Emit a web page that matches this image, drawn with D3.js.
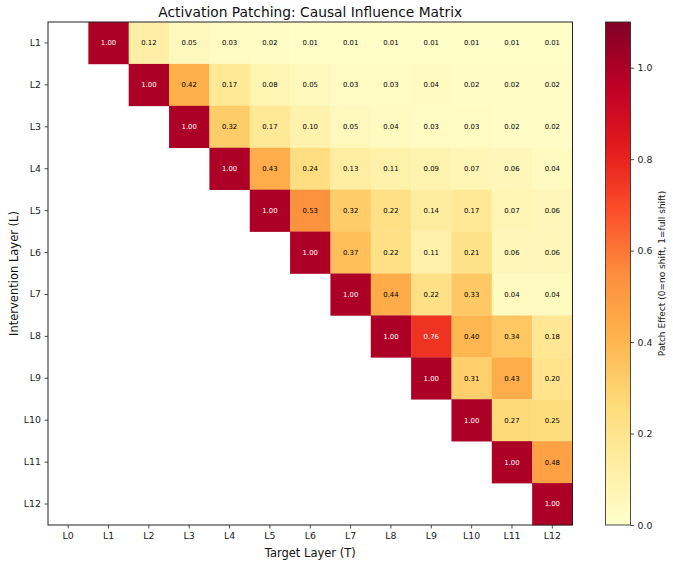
<!DOCTYPE html>
<html><head><meta charset="utf-8">
<script src="https://cdn.jsdelivr.net/npm/d3@7"></script>
<style>body{margin:0;background:#fff}svg{display:block;font-family:"DejaVu Sans",sans-serif}</style>
</head><body><svg id="c" width="673" height="565"></svg>
<script>
const rowLabels = ["L1","L2","L3","L4","L5","L6","L7","L8","L9","L10","L11","L12"];
const colLabels = ["L0","L1","L2","L3","L4","L5","L6","L7","L8","L9","L10","L11","L12"];
// each row lists values for target columns starting at its own layer
const rowL1  = [1.00,0.12,0.05,0.03,0.02,0.01,0.01,0.01,0.01,0.01,0.01,0.01];
const rowL2  = [1.00,0.42,0.17,0.08,0.05,0.03,0.03,0.04,0.02,0.02,0.02];
const rowL3  = [1.00,0.32,0.17,0.10,0.05,0.04,0.03,0.03,0.02,0.02];
const rowL4  = [1.00,0.43,0.24,0.13,0.11,0.09,0.07,0.06,0.04];
const rowL5  = [1.00,0.53,0.32,0.22,0.14,0.17,0.07,0.06];
const rowL6  = [1.00,0.37,0.22,0.11,0.21,0.06,0.06];
const rowL7  = [1.00,0.44,0.22,0.33,0.04,0.04];
const rowL8  = [1.00,0.76,0.40,0.34,0.18];
const rowL9  = [1.00,0.31,0.43,0.20];
const rowL10 = [1.00,0.27,0.25];
const rowL11 = [1.00,0.48];
const rowL12 = [1.00];
const rows = [rowL1,rowL2,rowL3,rowL4,rowL5,rowL6,rowL7,rowL8,rowL9,rowL10,rowL11,rowL12];
const cbTicks = [0.0,0.2,0.4,0.6,0.8,1.0];
const vmin = 0, vmax = 1.1;

const ylorrd = ["#ffffcc","#ffeda0","#fed976","#feb24c","#fd8d3c","#fc4e2a","#e31a1c","#bd0026","#800026"];
const color = d3.scaleLinear().domain(ylorrd.map((c,i)=>vmin+(vmax-vmin)*i/(ylorrd.length-1))).range(ylorrd).interpolate(d3.interpolateRgb).clamp(true);

const cells = [];
rows.forEach((r,i)=>{ r.forEach((v,k)=>{ cells.push({row:rowLabels[i], col:colLabels[i+1+k], v}); }); });

const svg = d3.select("#c");
const L=48, R=572.5, T=22, B=525;
const x = d3.scaleBand().domain(colLabels).range([L,R]);
const y = d3.scaleBand().domain(rowLabels).range([T,B]);

const g = svg.append("g");
g.selectAll("rect.cell").data(cells).join("rect").attr("class","cell")
  .attr("x",d=>x(d.col)).attr("y",d=>y(d.row))
  .attr("width",x.bandwidth()+0.3).attr("height",y.bandwidth()+0.3)
  .attr("fill",d=>color(d.v));
g.selectAll("text.val").data(cells).join("text").attr("class","val")
  .attr("x",d=>x(d.col)+x.bandwidth()/2).attr("y",d=>y(d.row)+y.bandwidth()/2)
  .attr("dy","0.35em").attr("text-anchor","middle").attr("font-size",6.9)
  .attr("fill",d=>d.v>0.6?"#fff":"#000").text(d=>d.v.toFixed(2));

// frame
svg.append("rect").attr("x",L).attr("y",T).attr("width",R-L).attr("height",B-T)
  .attr("fill","none").attr("stroke","#222").attr("stroke-width",1);

const xa = svg.append("g").attr("transform",`translate(0,${B})`)
  .call(d3.axisBottom(x).tickSize(3.5).tickPadding(3.5));
const ya = svg.append("g").attr("transform",`translate(${L},0)`)
  .call(d3.axisLeft(y).tickSize(3.5).tickPadding(3.5));
[xa,ya].forEach(a=>{a.select(".domain").remove();
  a.selectAll("text").attr("font-size",9.4).attr("fill","#222").attr("font-family","DejaVu Sans");
  a.selectAll("line").attr("stroke","#222").attr("stroke-width",0.8);});

svg.append("text").attr("x",(L+R)/2).attr("y",16.5).attr("text-anchor","middle")
  .attr("font-size",13.8).attr("fill","#111").text("Activation Patching: Causal Influence Matrix");
svg.append("text").attr("x",(L+R)/2).attr("y",557).attr("text-anchor","middle")
  .attr("font-size",11.5).attr("fill","#111").text("Target Layer (T)");
svg.append("text").attr("transform",`translate(18,${(T+B)/2}) rotate(-90)`).attr("text-anchor","middle")
  .attr("font-size",11.5).attr("fill","#111").text("Intervention Layer (L)");

// colorbar
const cbX=605.5, cbW=25;
const cy = d3.scaleLinear().domain([vmin,vmax]).range([B,T]);
const defs = svg.append("defs");
const grad = defs.append("linearGradient").attr("id","cb").attr("x1",0).attr("y1",1).attr("x2",0).attr("y2",0);
d3.range(0,1.0001,0.02).forEach(t=>grad.append("stop").attr("offset",t).attr("stop-color",color(vmin+t*(vmax-vmin))));
svg.append("rect").attr("x",cbX).attr("y",T).attr("width",cbW).attr("height",B-T).attr("fill","url(#cb)")
  .attr("stroke","#222").attr("stroke-width",0.8);
const ca = svg.append("g").attr("transform",`translate(${cbX+cbW},0)`)
  .call(d3.axisRight(cy).tickValues(cbTicks).tickFormat(d3.format(".1f")).tickSize(3.5).tickPadding(3.5));
ca.select(".domain").remove();
ca.selectAll("text").attr("font-size",9.4).attr("fill","#222").attr("font-family","DejaVu Sans");
ca.selectAll("line").attr("stroke","#222").attr("stroke-width",0.8);
svg.append("text").attr("transform",`translate(665,${(T+B)/2}) rotate(-90)`).attr("text-anchor","middle")
  .attr("font-size",9).attr("fill","#111").text("Patch Effect (0=no shift, 1=full shift)");
</script></body></html>
